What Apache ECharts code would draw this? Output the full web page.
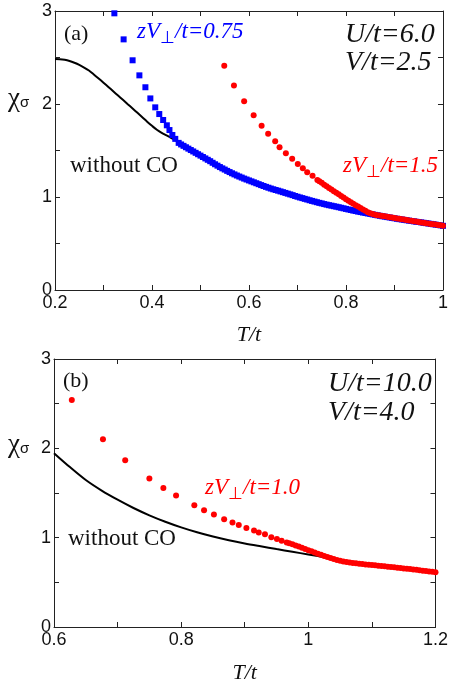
<!DOCTYPE html>
<html><head><meta charset="utf-8">
<script src="https://cdn.jsdelivr.net/npm/echarts@6/dist/echarts.min.js"></script>
<style>html,body{margin:0;padding:0;background:#fff}#c{width:451px;height:685px}</style>
</head><body><div id="c"></div>
<script>
// ---------- Panel (a): U/t=6.0, V/t=2.5 ----------
const aBlackT   = [0.20,0.21,0.22,0.23,0.24,0.25,0.26,0.27,0.28,0.29,0.30,0.31,0.32,0.33,0.34,0.35,0.36,0.37,0.38,0.39,0.40,0.41,0.42,0.43,0.44,0.45];
const aBlackChi = [2.484,2.482,2.475,2.462,2.443,2.420,2.392,2.360,2.318,2.274,2.229,2.183,2.137,2.091,2.045,1.998,1.952,1.905,1.858,1.810,1.765,1.723,1.690,1.662,1.634,1.607];

const aBlueT = [0.3224,0.3415,0.360,0.374,0.3864,0.3966,0.4067,0.415,0.423,0.4306,0.436,0.442,0.448,
  0.455,0.460,0.465,0.470,0.475,0.480,0.485,0.490,0.495,0.500,0.505,0.510,0.515,0.520,0.525,0.530,0.535,0.540,0.545,0.550,
  0.555,0.560,0.565,0.570,0.575,0.580,0.585,0.590,0.595,0.600,0.605,0.610,0.615,0.620,0.625,0.630,0.635,0.640,0.645,0.650,
  0.655,0.660,0.665,0.670,0.675,0.680,0.685,0.690,0.695,0.700,0.705,0.710,0.715,0.720,0.725,0.730,0.735,0.740,0.745,0.750,
  0.755,0.760,0.765,0.770,0.775,0.780,0.785,0.790,0.795,0.800,0.805,0.810,0.815,0.820,0.825,0.830,0.835,0.840,0.845,0.850,
  0.855,0.860,0.865,0.870,0.875,0.880,0.885,0.890,0.895,0.900,0.905,0.910,0.915,0.920,0.925,0.930,0.935,0.940,0.945,0.950,
  0.955,0.960,0.965,0.970,0.975,0.980,0.985,0.990,0.995,1.000];
const aBlueChi = [2.975,2.695,2.47,2.308,2.18,2.06,1.964,1.892,1.828,1.771,1.72,1.667,1.625,
  1.582,1.565,1.550,1.535,1.520,1.505,1.490,1.475,1.460,1.445,1.430,1.415,1.400,1.385,1.368,1.352,1.337,1.322,1.308,1.295,
  1.281,1.268,1.255,1.243,1.231,1.220,1.209,1.198,1.188,1.178,1.168,1.158,1.148,1.138,1.128,1.118,1.109,1.100,1.091,1.083,
  1.075,1.068,1.060,1.052,1.044,1.036,1.028,1.020,1.011,1.003,0.995,0.988,0.980,0.973,0.965,0.958,0.951,0.944,0.937,0.931,
  0.924,0.918,0.912,0.907,0.901,0.896,0.890,0.884,0.878,0.872,0.866,0.860,0.854,0.849,0.843,0.838,0.833,0.828,0.823,0.818,
  0.813,0.808,0.803,0.798,0.793,0.789,0.784,0.780,0.775,0.771,0.766,0.762,0.758,0.754,0.750,0.746,0.742,0.738,0.734,0.731,
  0.727,0.723,0.719,0.715,0.711,0.707,0.703,0.699,0.695,0.690];

const aRedT = [0.549,0.569,0.590,0.6096,0.626,0.6395,0.654,0.663,0.676,0.689,0.7006,0.711,0.720,0.731,0.741,
  0.745,0.750,0.755,0.760,0.765,0.770,0.775,0.780,0.785,0.790,0.795,0.800,0.805,0.810,0.815,0.820,0.825,0.830,0.835,0.840,
  0.845,0.850,0.855,0.860,0.865,0.870,0.875,0.880,0.885,0.890,0.895,0.900,0.905,0.910,0.915,0.920,0.925,0.930,0.935,0.940,
  0.945,0.950,0.955,0.960,0.965,0.970,0.975,0.980,0.985,0.990,0.995,1.000];
const aRedChi = [2.41,2.20,2.03,1.878,1.767,1.68,1.60,1.534,1.47,1.412,1.355,1.308,1.265,1.229,1.183,
  1.170,1.152,1.133,1.115,1.098,1.080,1.063,1.046,1.029,1.011,0.994,0.977,0.960,0.943,0.927,0.912,0.897,0.881,0.866,0.851,
  0.837,0.825,0.817,0.810,0.805,0.800,0.796,0.792,0.788,0.783,0.779,0.775,0.770,0.766,0.761,0.757,0.752,0.748,0.744,0.740,
  0.736,0.732,0.727,0.723,0.719,0.715,0.711,0.707,0.703,0.699,0.695,0.690];

// ---------- Panel (b): U/t=10.0, V/t=4.0 ----------
const bBlackT   = [0.600,0.625,0.650,0.675,0.700,0.725,0.750,0.775,0.800,0.825,0.850,0.875,0.900,0.925,0.950,0.975,1.000,1.025,1.050];
const bBlackChi = [1.946,1.790,1.645,1.527,1.425,1.332,1.250,1.178,1.115,1.060,1.012,0.971,0.935,0.903,0.872,0.842,0.812,0.782,0.752];

const bRedT = [0.628,0.677,0.712,0.750,0.772,0.792,0.8207,0.836,0.8515,0.8676,0.8807,0.8906,0.9026,0.9146,0.922,0.9318,0.9418,0.9506,0.958,0.966,
  0.970,0.975,0.980,0.985,0.990,0.995,1.000,1.005,1.010,1.015,1.020,1.025,1.030,1.035,1.040,1.045,1.050,1.055,1.060,1.065,
  1.070,1.075,1.080,1.085,1.090,1.095,1.100,1.105,1.110,1.115,1.120,1.125,1.130,1.135,1.140,1.145,1.150,1.155,1.160,1.165,
  1.170,1.175,1.180,1.185,1.190,1.195,1.200];
const bRedChi = [2.542,2.103,1.866,1.661,1.556,1.471,1.364,1.306,1.258,1.207,1.170,1.141,1.108,1.079,1.058,1.038,1.006,0.984,0.966,0.947,
  0.938,0.926,0.913,0.900,0.886,0.873,0.860,0.847,0.834,0.821,0.808,0.795,0.783,0.771,0.760,0.750,0.741,0.734,0.728,0.722,
  0.717,0.713,0.709,0.705,0.701,0.698,0.694,0.690,0.687,0.683,0.679,0.675,0.672,0.668,0.664,0.660,0.656,0.652,0.648,0.644,
  0.640,0.636,0.631,0.627,0.622,0.618,0.613];

const aXTicks = {min:0.2, max:1.0, interval:0.2};
const bXTicks = {min:0.6, max:1.2, interval:0.2};
const yTicks  = {min:0, max:3, interval:1};

const zip = (xs, ys) => xs.map((x, i) => [x, ys[i]]);

const SANS = '"Liberation Sans", Arial, sans-serif';
const SERIF = '"Liberation Serif", "Times New Roman", serif';
const BLUE = '#0000ff', RED = '#ff0000';

function xAxes(grid, t, nameGap) {
  const common = {
    type:'value', gridIndex:grid, min:t.min, max:t.max, interval:t.interval,
    axisLine:{show:true, onZero:false, lineStyle:{color:'#222', width:1}},
    axisTick:{show:true, inside:true, length:5, lineStyle:{color:'#222'}},
    minorTick:{show:true, splitNumber:2, length:5, lineStyle:{color:'#222'}},
    splitLine:{show:false}, minorSplitLine:{show:false}
  };
  return [
    Object.assign({}, common, {position:'bottom',
      axisLabel:{show:true, fontSize:18, color:'#111', fontFamily:SANS, margin:4},
      name:'T/t', nameLocation:'middle', nameGap:nameGap,
      nameTextStyle:{fontFamily:SERIF, fontStyle:'italic', fontSize:22, color:'#111'}}),
    Object.assign({}, common, {position:'top', axisLabel:{show:false}})
  ];
}
function yAxes(grid) {
  const common = {
    type:'value', gridIndex:grid, min:yTicks.min, max:yTicks.max, interval:yTicks.interval,
    axisLine:{show:true, onZero:false, lineStyle:{color:'#222', width:1}},
    axisTick:{show:true, inside:true, length:5, lineStyle:{color:'#222'}},
    minorTick:{show:true, splitNumber:2, length:5, lineStyle:{color:'#222'}},
    splitLine:{show:false}, minorSplitLine:{show:false}
  };
  return [
    Object.assign({}, common, {position:'left',
      axisLabel:{show:true, fontSize:18, color:'#111', fontFamily:SANS, margin:3}}),
    Object.assign({}, common, {position:'right', axisLabel:{show:false}})
  ];
}

function label(x, y, parts, color, size) {
  let txt = parts.map(p => p[1] ? '{s|' + p[0] + '}' : '{i|' + p[0] + '}').join('');
  return {
    type:'text', x:x, y:y, silent:true,
    style:{
      text:txt, fill:color, textAlign:'left', textVerticalAlign:'middle',
      rich:{
        i:{fontFamily:SERIF, fontStyle:'italic', fontSize:size, fill:color},
        s:{fontFamily:SERIF, fontSize:Math.round(size*0.75), fill:color, padding:[Math.round(size*0.6),0,0,0]}
      }
    }
  };
}
function plain(x, y, text, size, style) {
  return {type:'text', x:x, y:y, silent:true,
    style:{text:text, fill:'#111', fontFamily:SERIF, fontSize:size, fontStyle:style || 'normal',
      textAlign:'left', textVerticalAlign:'middle'}};
}
function chiLabel(x, y) {
  return {type:'text', x:x, y:y, silent:true,
    style:{text:'{a|χ}{b|σ}', textAlign:'left', textVerticalAlign:'middle',
      rich:{a:{fontFamily:SERIF, fontSize:27, fill:'#111'},
            b:{fontFamily:SANS, fontSize:15, fill:'#111', padding:[8,0,0,0]}}}};
}

const chart = echarts.init(document.getElementById('c'), null, {renderer:'canvas'});
chart.setOption({
  animation:false,
  backgroundColor:'#ffffff',
  grid:[
    {left:55, top:11, width:392, height:279},
    {left:54, top:359, width:384, height:273}
  ],
  xAxis:[].concat(xAxes(0, aXTicks, 34), xAxes(1, bXTicks, 35)),
  yAxis:[].concat(yAxes(0), yAxes(1)),
  series:[
    {type:'line', xAxisIndex:0, yAxisIndex:0, data:zip(aBlackT, aBlackChi), showSymbol:false, smooth:0.3,
      lineStyle:{color:'#000', width:2}, z:1},
    {type:'scatter', xAxisIndex:0, yAxisIndex:0, data:zip(aBlueT, aBlueChi), symbol:'rect', symbolSize:6,
      itemStyle:{color:BLUE, opacity:1}, z:2},
    {type:'scatter', xAxisIndex:0, yAxisIndex:0, data:zip(aRedT, aRedChi), symbol:'circle', symbolSize:6,
      itemStyle:{color:RED, opacity:1}, z:3},
    {type:'line', xAxisIndex:2, yAxisIndex:2, data:zip(bBlackT, bBlackChi), showSymbol:false, smooth:0.3,
      lineStyle:{color:'#000', width:2}, z:1},
    {type:'scatter', xAxisIndex:2, yAxisIndex:2, data:zip(bRedT, bRedChi), symbol:'circle', symbolSize:6,
      itemStyle:{color:RED, opacity:1}, z:3}
  ],
  graphic:[
    plain(64, 34, '(a)', 22),
    label(137, 32, [['zV',0],['⊥',1],['/t=0.75',0]], BLUE, 23),
    plain(345, 35, 'U/t=6.0', 28, 'italic'),
    plain(345, 63, 'V/t=2.5', 28, 'italic'),
    plain(70, 166, 'without CO', 23),
    label(343, 166, [['zV',0],['⊥',1],['/t=1.5',0]], RED, 23),
    chiLabel(8, 99),
    plain(63, 381, '(b)', 22),
    plain(328, 384, 'U/t=10.0', 28, 'italic'),
    plain(328, 413, 'V/t=4.0', 28, 'italic'),
    label(205, 488, [['zV',0],['⊥',1],['/t=1.0',0]], RED, 23),
    plain(68, 539, 'without CO', 23),
    chiLabel(8, 445)
  ]
});
</script></body></html>
